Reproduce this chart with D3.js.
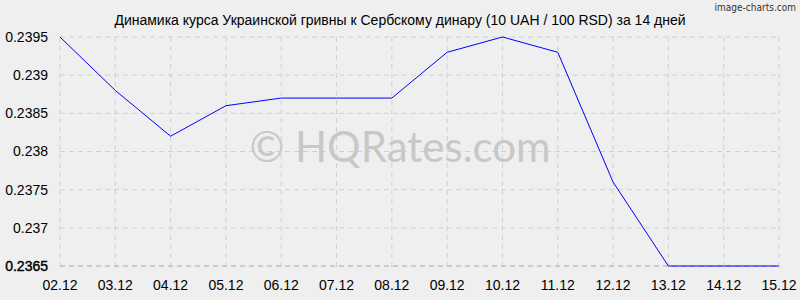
<!DOCTYPE html>
<html>
<head>
<script src="https://d3js.org/d3.v7.min.js"></script>
<style>
body { margin: 0; background: #efefef; }
</style>
</head>
<body>
<div id="chart"></div>
<script>
var dates = ["02.12","03.12","04.12","05.12","06.12","07.12","08.12","09.12","10.12","11.12","12.12","13.12","14.12","15.12"];
var rates = [0.2395,0.2388,0.2382,0.2386,0.2387,0.2387,0.2387,0.2393,0.2395,0.2393,0.2376,0.2365,0.2365,0.2365];
var yTicks = [0.2365,0.237,0.2375,0.238,0.2385,0.239,0.2395];
var title = "Динамика курса Украинской гривны к Сербскому динару (10 UAH / 100 RSD) за 14 дней";

var W = 800, H = 300;
var svg = d3.select("#chart").append("svg")
    .attr("width", W)
    .attr("height", H)
    .style("font-family", "'Liberation Sans', Arial, sans-serif");

svg.append("rect").attr("width", W).attr("height", H).attr("fill", "#efefef");

var x = d3.scalePoint().domain(dates).range([60, 779]);
var y = d3.scaleLinear().domain([0.2365, 0.2395]).range([266, 37]);

/* grid */
svg.append("g").selectAll("line.v")
    .data(dates)
    .enter().append("line")
    .attr("x1", d => x(d)).attr("x2", d => x(d))
    .attr("y1", y(0.2395)).attr("y2", y(0.2365) + 5)
    .attr("stroke", "#d0d0d0")
    .attr("stroke-dasharray", "5,4");

svg.append("g").selectAll("line.h")
    .data(yTicks)
    .enter().append("line")
    .attr("x1", 60).attr("x2", 779)
    .attr("y1", d => y(d)).attr("y2", d => y(d))
    .attr("stroke", (d, i) => i == 0 ? "#a8a8a8" : "#d0d0d0")
    .attr("stroke-dasharray", "5,4");

/* watermark */
svg.append("text")
    .attr("x", 400).attr("y", 162)
    .attr("text-anchor", "middle")
    .attr("font-family", "Lato, sans-serif")
    .attr("font-size", "42px")
    .attr("fill", "#c8c8c8")
    .text("© HQRates.com");

/* y labels */
svg.append("g").selectAll("text")
    .data(yTicks)
    .enter().append("text")
    .attr("x", 48)
    .attr("y", d => y(d))
    .attr("dy", "0.35em")
    .attr("text-anchor", "end")
    .attr("font-size", "14px")
    .attr("fill", "#000")
    .attr("stroke", (d, i) => i == 0 ? "#000" : "none")
    .attr("stroke-width", 0.4)
    .text(d => d3.format("")(+d.toFixed(4)));

/* x labels */
svg.append("g").selectAll("text")
    .data(dates)
    .enter().append("text")
    .attr("x", d => x(d))
    .attr("y", 290)
    .attr("text-anchor", "middle")
    .attr("font-size", "14px")
    .attr("fill", "#000")
    .text(d => d);

/* line */
var line = d3.line()
    .x((d, i) => x(dates[i]))
    .y(d => y(d));

svg.append("path")
    .datum(rates)
    .attr("d", line)
    .attr("fill", "none")
    .attr("stroke", "#0000ff")
    .attr("stroke-width", 1);

/* title */
svg.append("text")
    .attr("x", 400).attr("y", 25)
    .attr("text-anchor", "middle")
    .attr("font-size", "14px")
    .attr("fill", "#000")
    .text(title);

svg.append("text")
    .attr("x", 796).attr("y", 11)
    .attr("text-anchor", "end")
    .attr("font-family", "'DejaVu Sans Condensed', sans-serif")
    .attr("font-size", "10px")
    .attr("fill", "#333")
    .text("image-charts.com");
</script>
</body>
</html>
